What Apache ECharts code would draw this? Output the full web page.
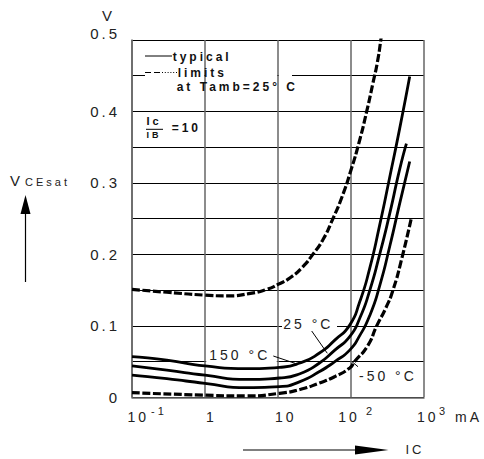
<!DOCTYPE html>
<html><head><meta charset="utf-8">
<script src="https://cdn.jsdelivr.net/npm/echarts@6/dist/echarts.min.js"></script>
<style>
html,body{margin:0;padding:0;background:#fff}
#c{width:484px;height:459px}
#c svg text{letter-spacing:3px}
</style>
</head><body><div id="c"></div>
<script>
// ---- data (Ic in mA, VCEsat in V) ----
const tickExps = [-1, 0, 1, 2, 3];
const yLabels = ['0','','0.1','','0.2','','0.3','','0.4','','0.5'];

const ic150 = [0.1, 0.3, 1, 3.7, 10.5, 20, 37, 60, 96, 131, 180, 247, 339, 464, 637];
const v150  = [0.057, 0.052, 0.044, 0.040, 0.042, 0.048, 0.062, 0.080, 0.101, 0.133, 0.180, 0.241, 0.308, 0.376, 0.449];

const ic25 = [0.1, 0.3, 1, 3.7, 10.5, 20, 37, 60, 96, 131, 180, 247, 339, 464, 574];
const v25  = [0.044, 0.038, 0.031, 0.025, 0.027, 0.033, 0.048, 0.066, 0.085, 0.110, 0.149, 0.200, 0.257, 0.319, 0.355];

const icm50 = [0.1, 0.3, 1, 3.7, 10.5, 20, 37, 60, 96, 131, 180, 247, 339, 464, 637];
const vm50  = [0.031, 0.026, 0.0196, 0.0135, 0.015, 0.022, 0.036, 0.050, 0.066, 0.086, 0.114, 0.156, 0.211, 0.271, 0.330];

const icMax = [0.1, 0.3, 1, 2, 4, 7, 10, 15, 22, 30, 41, 56, 75, 100, 130, 164, 200, 230, 256, 285];
const vMax  = [0.151, 0.147, 0.143, 0.142, 0.145, 0.151, 0.158, 0.168, 0.183, 0.200, 0.220, 0.249, 0.280, 0.318, 0.358, 0.400, 0.440, 0.469, 0.500, 0.535];

const icMin = [0.1, 1, 3.7, 10.5, 20, 37, 60, 96, 112, 169, 225, 300, 376, 490, 671];
const vMin  = [0.0065, 0.003, 0.002, 0.0056, 0.011, 0.020, 0.029, 0.041, 0.050, 0.072, 0.100, 0.125, 0.150, 0.192, 0.251];

function pairs(xs, ys) { return xs.map((x, i) => [x, ys[i]]); }

const FONT = '"Liberation Sans", Arial, Helvetica, sans-serif';
const chart = echarts.init(document.getElementById('c'), null, { renderer: 'svg' });

const solid = { color: '#000', width: 2.8, type: 'solid' };
const dashed = { color: '#000', width: 3.2, type: [8, 2.5] };

function curve(name, xs, ys, ls) {
  return { name: name, type: 'line', data: pairs(xs, ys), smooth: 0.6, symbol: 'none',
           lineStyle: ls, itemStyle: { color: '#000' }, z: 2, clip: true, silent: true };
}

chart.setOption({
  animation: false,
  backgroundColor: '#fff',
  grid: { left: 132, top: 40, width: 292, height: 357.3, containLabel: false, outerBoundsMode: 'none' },
  xAxis: {
    type: 'log', logBase: 10, min: 0.1, max: 1000, splitNumber: 4,
    axisLine: { show: true, lineStyle: { color: '#666', width: 1.5 } },
    axisTick: { show: false },
    axisLabel: { show: false },
    splitLine: { show: true, lineStyle: { color: '#666', width: 1.5 } },
    minorTick: { show: false }, minorSplitLine: { show: false }
  },
  yAxis: {
    type: 'value', min: 0, max: 0.5, interval: 0.05,
    axisLine: { show: true, lineStyle: { color: '#666', width: 1.5 } },
    axisTick: { show: false },
    axisLabel: {
      show: true, margin: 12, color: '#222', fontSize: 15, fontFamily: FONT,
      formatter: function (v) {
        const s = yLabels[Math.round(v * 20)] || '';
        return Math.round(v * 20) === 10 ? '{top|' + s + '}' : s;
      },
      rich: { top: { fontSize: 15, fontFamily: FONT, color: '#222', padding: [0, 0, 14, 0] } }
    },
    splitLine: { show: true, lineStyle: { color: '#000', width: 1 } }
  },
  series: [
    curve('max', icMax, vMax, dashed),
    curve('150', ic150, v150, solid),
    curve('25', ic25, v25, solid),
    curve('-50', icm50, vm50, solid),
    curve('min', icMin, vMin, dashed)
  ]
});

const px = v => chart.convertToPixel({ xAxisIndex: 0 }, v);
const py = v => chart.convertToPixel({ yAxisIndex: 0 }, v);

function txt(x, y, s, size, opt) {
  opt = opt || {};
  return { type: 'text', z: opt.z || 5, silent: true,
    style: { x: x, y: y, text: s, fill: opt.color || '#111',
      font: (opt.bold ? 'bold ' : '') + size + 'px ' + FONT,
      align: opt.align || 'left', verticalAlign: 'middle',
      textAlign: opt.align || 'left', textVerticalAlign: 'middle' } };
}
function seg(x1, y1, x2, y2, w, dash) {
  return { type: 'line', z: 5, silent: true, shape: { x1: x1, y1: y1, x2: x2, y2: y2 },
    style: { stroke: '#000', lineWidth: w || 1, lineDash: dash || null } };
}
function box(x, y, w, h) {
  return { type: 'rect', z: 1, silent: true, shape: { x: x, y: y, width: w, height: h },
    style: { fill: '#fff' } };
}
function tri(pts) {
  return { type: 'polygon', z: 5, silent: true, shape: { points: pts }, style: { fill: '#000' } };
}

const g = [];
// x tick labels
tickExps.forEach(function (e) {
  const tx = px(Math.pow(10, e));
  if (e === 0) { g.push(txt(tx + 1, 416.7, '1', 14, { color: '#222' })); return; }
  const off = { '-1': -4.5, '1': -3, '2': -12.7, '3': -7 }[e];
  g.push(txt(tx + off, 416.7, '10', 14, { color: '#222' }));
  if (e === -1) g.push(txt(tx + 19, 410.5, '-1', 11, { color: '#222' }));
  if (e === 2) g.push(txt(tx + 15, 411, '2', 11, { color: '#222' }));
  if (e === 3) { g.push(txt(tx + 15, 411, '3', 11, { color: '#222' }));
                 g.push(txt(tx + 31, 416.7, 'mA', 14, { color: '#222' })); }
});
// unit V on y axis
g.push(txt(108.5, 15, 'V', 15, { align: 'center', color: '#222' }));
// y title + arrow
g.push(txt(10, 180.5, 'V', 15, { color: '#222' }));
g.push(txt(25, 181.5, 'CEsat', 11, { color: '#222' }));
g.push(seg(25.5, 282, 25.5, 208, 1.2));
g.push(tri([[25.5, 195], [20.5, 214], [30.5, 214]]));
// x title + arrow
g.push(seg(243, 450, 360, 450, 1.2));
g.push(tri([[355, 445.5], [388.5, 450], [355, 454.5]]));
g.push(txt(405.5, 449, 'IC', 13, { color: '#222' }));

// gap in the 0.45 grid line behind the legend
const y45 = py(0.45);
const x1 = px(1), x10 = px(10);
g.push(box(145, y45 - 2, x1 - 1 - 145, 4));
g.push(box(x1 + 1, y45 - 2, x10 - 1 - (x1 + 1), 4));
g.push(box(x10 + 1, y45 - 2, 292 - (x10 + 1), 4));
// legend
g.push(seg(145, 56, 172, 56, 1));
g.push(txt(172.7, 56.5, 'typical', 12, { bold: true }));
g.push(seg(145, 72.5, 151, 72.5, 1));
g.push(seg(154, 72.5, 160, 72.5, 1));
g.push(seg(162, 72.5, 177, 72.5, 1, [1, 1.8]));
g.push(txt(177.7, 72.5, 'limits', 12, { bold: true }));
g.push(txt(176.7, 86.7, 'at Tamb=25° C', 12, { bold: true }));
// Ic / IB = 10
g.push(txt(146.5, 120.5, 'Ic', 11, { bold: true }));
g.push(seg(146, 129.3, 163, 129.3, 1));
g.push(txt(146.5, 135, 'IB', 9, { bold: true }));
g.push(txt(171.7, 128, '=10', 12, { bold: true }));

// temperature labels
g.push(box(x1 + 1.2, 343, x10 - x1 - 2.4, 20.5));
g.push(txt(209.3, 354.5, '150 °C', 14, { color: '#222' }));
g.push(seg(273.3, 356, 295, 363.3, 1));

g.push(box(282, 315, 55, 16));
g.push(txt(283.3, 323.5, '25 °C', 14, { color: '#222' }));
g.push(seg(311.7, 331, 327.3, 353.3, 1));

g.push(txt(359, 375.5, '-50 °C', 14, { color: '#222' }));
g.push(seg(352, 361.7, 358, 366.7, 1));

chart.setOption({ graphic: { elements: g } });
</script>
</body></html>
